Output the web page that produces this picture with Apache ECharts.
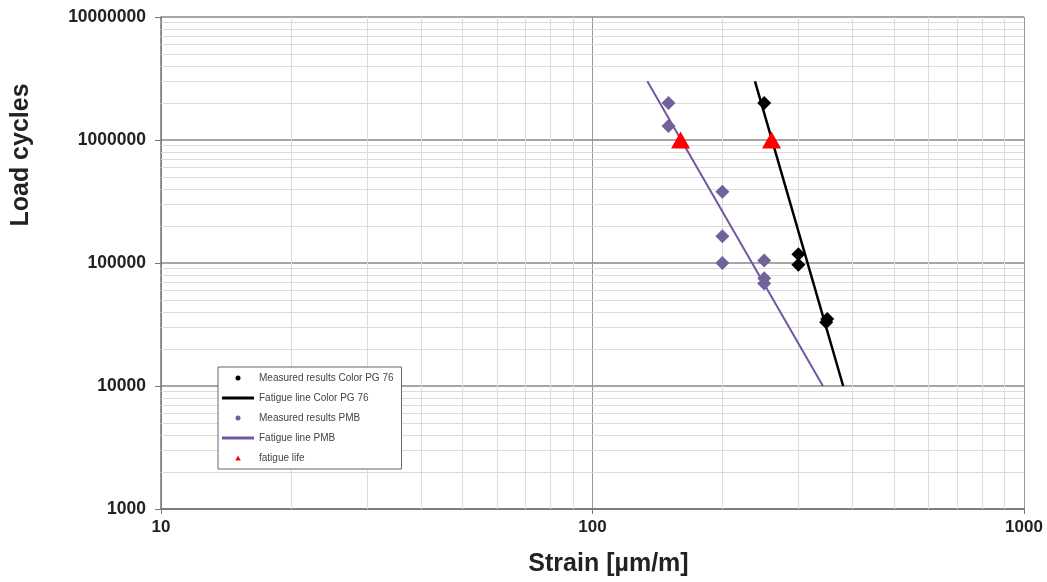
<!DOCTYPE html>
<html>
<head>
<meta charset="utf-8">
<script src="https://cdn.jsdelivr.net/npm/echarts@6/dist/echarts.min.js"></script>
<style>
  html, body { margin: 0; padding: 0; background: #fff; }
  #charts { width: 1047px; height: 582px; }
</style>
</head>
<body>
<div id="charts"></div>
<script>
// measured points [strain, load cycles]
var colorPG76Points = [[250, 2000000], [300, 118000], [300, 97000], [350, 35000], [348, 33000]];
var pmbPoints = [[150, 2000000], [150, 1300000], [200, 380000], [200, 165000], [200, 100000],
                 [250, 105000], [250, 75000], [250, 68000]];
var colorPG76Line = [[238, 3000000], [381, 10000]];
var pmbLine = [[134, 3000000], [342, 10000]];
var fatigueLife = [[160, 1000000], [260, 1000000]];

// minor grid lines
var xMinor = [20, 30, 40, 50, 60, 70, 80, 90, 200, 300, 400, 500, 600, 700, 800, 900];
var yMinor = [];
[1000, 10000, 100000, 1000000].forEach(function (d) {
    for (var k = 2; k <= 9; k++) yMinor.push(d * k);
});

var myChart = echarts.init(document.getElementById('charts'));
var font = '"Liberation Sans", Arial, sans-serif';
var lineIcon = 'path://M0,0L32,0L32,3L0,3Z';
var triIcon = 'path://M5,0L10,9L0,9Z';

var option = {
    animation: false,
    textStyle: { fontFamily: font },
    grid: { left: 161, top: 17, right: 23, bottom: 73, outerBoundsMode: 'none' },
    legend: {
        orient: 'vertical',
        left: 218,
        top: 367,
        z: 10,
        padding: [5, 8, 5, 4],
        itemWidth: 32,
        itemHeight: 5,
        itemGap: 8,
        symbolKeepAspect: true,
        backgroundColor: '#fff',
        borderColor: '#666',
        borderWidth: 1,
        textStyle: { fontSize: 10, color: '#444', lineHeight: 12 },
        data: [
            { name: 'Measured results Color PG 76', icon: 'circle' },
            { name: 'Fatigue line Color PG 76', icon: lineIcon },
            { name: 'Measured results PMB', icon: 'circle' },
            { name: 'Fatigue line PMB', icon: lineIcon },
            { name: 'fatigue life', icon: triIcon }
        ]
    },
    xAxis: {
        type: 'log',
        min: 10,
        max: 1000,
        name: 'Strain [µm/m]',
        nameLocation: 'middle',
        nameGap: 43,
        nameTextStyle: { fontSize: 25, fontWeight: 'bold', color: '#222', padding: [0, 0, 0, 32] },
        axisLine: { lineStyle: { color: '#777', width: 1.5 } },
        axisTick: { show: true, length: 5, lineStyle: { color: '#777' } },
        axisLabel: { fontSize: 17, fontWeight: 'bold', color: '#222', margin: 10,
                     formatter: function (v) { return String(Math.round(v)); } },
        splitLine: { show: true, lineStyle: { color: '#999', width: 1 } }
    },
    yAxis: {
        type: 'log',
        min: 1000,
        max: 10000000,
        name: 'Load cycles',
        nameLocation: 'middle',
        nameRotate: 90,
        nameGap: 127,
        nameTextStyle: { fontSize: 25, fontWeight: 'bold', color: '#222', padding: [0, 0, 0, 216] },
        axisLine: { lineStyle: { color: '#777', width: 1.5 } },
        axisTick: { show: true, length: 6, lineStyle: { color: '#777' } },
        axisLabel: { fontSize: 17.5, fontWeight: 'bold', color: '#222', margin: 15,
                     formatter: function (v) { return String(Math.round(v)); } },
        splitLine: { show: true, lineStyle: { color: '#888', width: 1.5 } }
    },
    series: [
        {
            name: 'grid',
            type: 'line',
            z: 1,
            silent: true,
            data: [],
            markLine: {
                z: 1,
                silent: true,
                symbol: ['none', 'none'],
                label: { show: false },
                lineStyle: { color: '#dcdcdc', width: 1, type: 'solid' },
                emphasis: { disabled: true },
                data: yMinor.map(function (v) { return { yAxis: v }; })
                    .concat(xMinor.map(function (v) { return { xAxis: v }; }))
            }
        },
        {
            name: 'Fatigue line PMB',
            type: 'line',
            z: 3,
            data: pmbLine,
            showSymbol: false,
            symbol: 'none',
            lineStyle: { color: '#7356a3', width: 2 },
            itemStyle: { color: '#7356a3' }
        },
        {
            name: 'Fatigue line Color PG 76',
            type: 'line',
            z: 3,
            data: colorPG76Line,
            showSymbol: false,
            symbol: 'none',
            lineStyle: { color: '#000', width: 2.5 },
            itemStyle: { color: '#000' }
        },
        {
            name: 'Measured results PMB',
            type: 'scatter',
            z: 4,
            data: pmbPoints,
            symbol: 'diamond',
            symbolSize: 14,
            itemStyle: { color: '#71639a', opacity: 1 }
        },
        {
            name: 'Measured results Color PG 76',
            type: 'scatter',
            z: 4,
            data: colorPG76Points,
            symbol: 'diamond',
            symbolSize: 14,
            itemStyle: { color: '#000', opacity: 1 }
        },
        {
            name: 'fatigue life',
            type: 'scatter',
            z: 5,
            data: fatigueLife,
            symbol: 'triangle',
            symbolSize: [19, 17],
            itemStyle: { color: '#ff0000', opacity: 1 }
        }
    ]
};
myChart.setOption(option);
</script>
</body>
</html>
